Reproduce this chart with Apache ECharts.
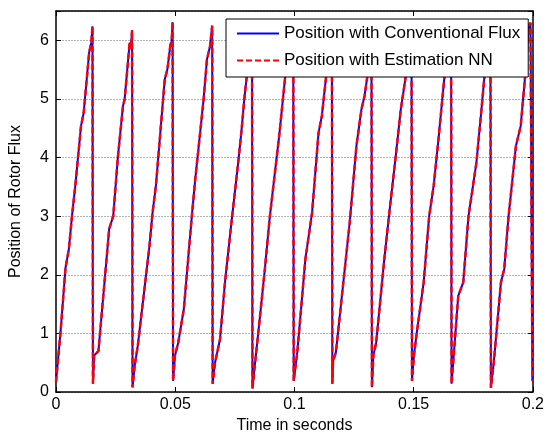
<!DOCTYPE html>
<html>
<head>
<meta charset="utf-8">
<script src="https://cdn.jsdelivr.net/npm/echarts@6/dist/echarts.min.js"></script>
<style>
html,body{margin:0;padding:0;background:#fff;}
#chart{width:547px;height:439px;}
</style>
</head>
<body>
<div id="chart"></div>
<script>
const timeValues = [
  0, 0.0019, 0.0040, 0.0054, 0.0067, 0.0081, 0.0105, 0.0116, 0.0139, 0.0148, 0.0153,
  0.0155, 0.0160, 0.0178, 0.0223, 0.0240, 0.0260, 0.0281, 0.0288, 0.0309, 0.0314, 0.0319,
  0.0321, 0.0330, 0.0343, 0.0392, 0.0405, 0.0419, 0.0456, 0.0467, 0.0481, 0.0484, 0.0489,
  0.0491, 0.0499, 0.0513, 0.0536, 0.0571, 0.0584, 0.0619, 0.0633, 0.0646, 0.0655,
  0.0657, 0.0667, 0.0688, 0.0708, 0.0736, 0.0764, 0.0777, 0.0791, 0.0805, 0.0822,
  0.0824, 0.0835, 0.0853, 0.0876, 0.0897, 0.0936, 0.0963, 0.0985, 0.0995,
  0.0997, 0.1012, 0.1046, 0.1074, 0.1101, 0.1115, 0.1136, 0.1150, 0.1157,
  0.1159, 0.1162, 0.1174, 0.1232, 0.1260, 0.1281, 0.1294, 0.1308, 0.1323,
  0.1325, 0.1331, 0.1343, 0.1377, 0.1398, 0.1425, 0.1446, 0.1467, 0.1491,
  0.1493, 0.1501, 0.1515, 0.1542, 0.1565, 0.1584, 0.1604, 0.1632, 0.1657,
  0.1659, 0.1668, 0.1687, 0.1708, 0.1730, 0.1763, 0.1783, 0.1797, 0.1822,
  0.1824, 0.1836, 0.1866, 0.1880, 0.1898, 0.1929, 0.1949, 0.1970, 0.1983, 0.1990, 0.1998
];
const conventionalPos = [
  0.17, 1.02, 2.12, 2.44, 3.0, 3.52, 4.54, 4.76, 5.79, 5.96, 6.24,
  0.14, 0.62, 0.70, 2.78, 3.0, 4.03, 4.88, 5.0, 5.96, 5.85, 6.17,
  0.08, 0.45, 0.79, 2.49, 3.06, 3.52, 5.33, 5.5, 5.96, 5.9, 6.31,
  0.19, 0.62, 0.85, 1.41, 3.06, 3.63, 4.99, 5.67, 5.9, 6.25,
  0.14, 0.5, 0.9, 1.84, 2.9, 3.91, 4.42, 5.05, 5.56, 6.2,
  0.06, 0.5, 1.19, 2.1, 3.0, 4.37, 5.45, 6.0, 6.22,
  0.19, 0.68, 2.27, 3.06, 4.42, 4.71, 5.5, 5.95, 6.25,
  0.14, 0.53, 0.68, 2.9, 4.2, 4.82, 5.05, 5.45, 6.2,
  0.08, 0.62, 0.85, 2.27, 3.06, 4.03, 4.82, 5.39, 6.22,
  0.19, 0.62, 1.07, 1.87, 3.0, 3.52, 4.31, 5.5, 6.25,
  0.14, 0.62, 1.64, 1.87, 3.0, 3.91, 4.76, 5.39, 6.2,
  0.07, 0.5, 1.87, 2.1, 3.0, 4.2, 4.54, 5.5, 6.24, 6.3, 0.19
];
const nnPos = [
  0.17, 1.02, 2.12, 2.44, 3.0, 3.52, 4.54, 4.76, 5.79, 5.96, 6.24,
  0.14, 0.62, 0.70, 2.78, 3.0, 4.03, 4.88, 5.0, 5.96, 5.85, 6.17,
  0.08, 0.45, 0.79, 2.49, 3.06, 3.52, 5.33, 5.5, 5.96, 5.9, 6.31,
  0.19, 0.62, 0.85, 1.41, 3.06, 3.63, 4.99, 5.67, 5.9, 6.25,
  0.14, 0.5, 0.9, 1.84, 2.9, 3.91, 4.42, 5.05, 5.56, 6.2,
  0.06, 0.5, 1.19, 2.1, 3.0, 4.37, 5.45, 6.0, 6.22,
  0.19, 0.68, 2.27, 3.06, 4.42, 4.71, 5.5, 5.95, 6.25,
  0.14, 0.53, 0.68, 2.9, 4.2, 4.82, 5.05, 5.45, 6.2,
  0.08, 0.62, 0.85, 2.27, 3.06, 4.03, 4.82, 5.39, 6.22,
  0.19, 0.62, 1.07, 1.87, 3.0, 3.52, 4.31, 5.5, 6.25,
  0.14, 0.62, 1.64, 1.87, 3.0, 3.91, 4.76, 5.39, 6.2,
  0.07, 0.5, 1.87, 2.1, 3.0, 4.2, 4.54, 5.5, 6.24, 6.3, 0.19
];
const seriesNames = ['Position with Conventional Flux', 'Position with Estimation NN'];
const xTitle = 'Time in seconds';
const yTitle = 'Position of Rotor Flux';

const FONT = '"Liberation Sans", Arial, sans-serif';
const chart = echarts.init(document.getElementById('chart'), null, {renderer: 'canvas'});

const axisLine = {show: true, onZero: false, lineStyle: {color: '#000', width: 1.5}};
const axisTick = {show: true, inside: true, length: 5, lineStyle: {color: '#000', width: 1}};

chart.setOption({
  animation: false,
  backgroundColor: '#fff',
  grid: {left: 52, top: 11, width: 484, height: 382, containLabel: false},
  legend: {
    orient: 'vertical',
    left: 226, top: 19,
    padding: [6, 8, 8, 10],
    itemWidth: 42, itemHeight: 14, itemGap: 10,
    backgroundColor: '#fff',
    borderColor: '#000', borderWidth: 1,
    itemStyle: {opacity: 0},
    textStyle: {fontFamily: FONT, fontSize: 17, color: '#000'},
    data: seriesNames
  },
  xAxis: [{
    type: 'value', min: 0, max: 0.2, interval: 0.05,
    position: 'bottom',
    name: xTitle, nameLocation: 'middle', nameGap: 26,
    nameTextStyle: {fontFamily: FONT, fontSize: 16, color: '#000'},
    axisLine: axisLine, axisTick: axisTick,
    axisLabel: {fontFamily: FONT, fontSize: 16, color: '#000', margin: 5},
    splitLine: {show: false}
  }, {
    type: 'value', min: 0, max: 0.2, interval: 0.05,
    position: 'top',
    axisLine: axisLine, axisTick: axisTick,
    axisLabel: {show: false}, splitLine: {show: false}
  }],
  yAxis: [{
    type: 'value', min: 0, max: 6.5, interval: 1,
    position: 'left',
    name: yTitle, nameLocation: 'middle', nameGap: 32,
    nameTextStyle: {fontFamily: FONT, fontSize: 16, color: '#000'},
    axisLine: axisLine, axisTick: axisTick,
    axisLabel: {fontFamily: FONT, fontSize: 16, color: '#000', margin: 7,
      formatter: v => (Math.abs(v - Math.round(v)) < 1e-9 ? String(Math.round(v)) : '')},
    splitLine: {show: true, lineStyle: {color: '#b4b4b4', width: 1, type: [2, 1]}}
  }, {
    type: 'value', min: 0, max: 6.5, interval: 1,
    position: 'right',
    axisLine: axisLine, axisTick: axisTick,
    axisLabel: {show: false}, splitLine: {show: false}
  }],
  series: [{
    name: seriesNames[0], type: 'line',
    xAxisIndex: 0, yAxisIndex: 0,
    data: timeValues.map((t, i) => [t, conventionalPos[i]]),
    showSymbol: false, symbol: 'none',
    lineStyle: {color: '#0000ff', width: 2, type: 'solid'},
    itemStyle: {color: '#0000ff'},
    z: 2
  }, {
    name: seriesNames[1], type: 'line',
    xAxisIndex: 0, yAxisIndex: 0,
    data: timeValues.map((t, i) => [t, nnPos[i]]),
    showSymbol: false, symbol: 'none',
    lineStyle: {color: '#ff0000', width: 2.5, type: [6, 3]},
    itemStyle: {color: '#ff0000'},
    z: 3
  }]
});
</script>
</body>
</html>
